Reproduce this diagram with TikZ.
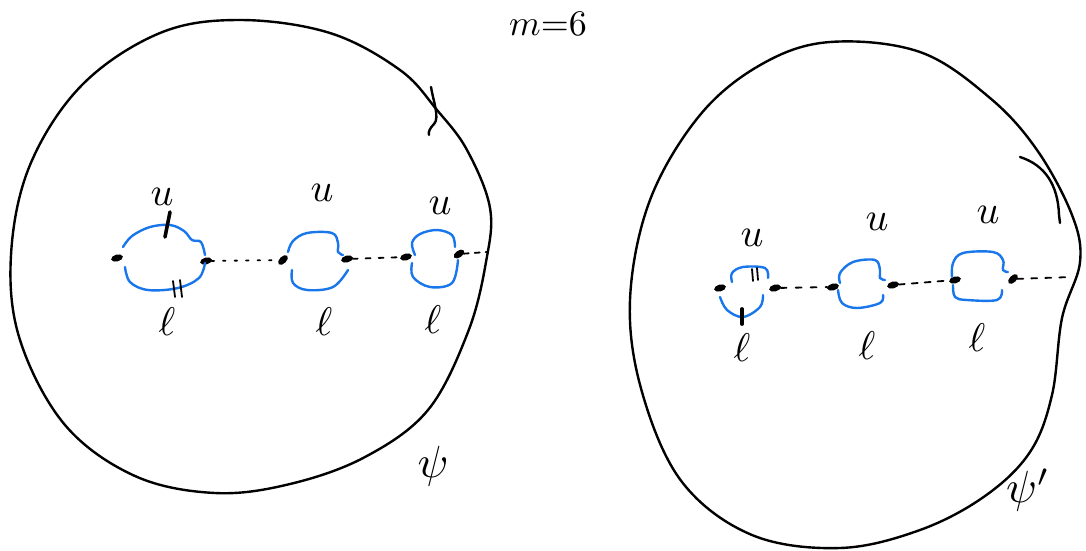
\documentclass[tikz,border=0pt]{standalone}
\usepackage{graphicx}
\usetikzlibrary{shapes.geometric,calc}
\definecolor{penblue}{RGB}{25,118,235}
\newcommand{\bigtxt}[2]{\scalebox{#1}{#2}}
\tikzset{
  ink/.style={line width=2.4pt,line cap=round,line join=round},
  loopb/.style={penblue,line width=2.4pt,line cap=round},
  dotn/.style={ellipse,fill=black,draw=black,line width=0.8pt,minimum width=11pt,minimum height=6pt,inner sep=0pt,rotate=15},
  dotline/.style={line width=1.8pt,dash pattern=on 2.5pt off 9pt,line cap=round},
  lab/.style={inner sep=0pt},
}
\begin{document}
\begin{tikzpicture}[x={(1pt,0)},y={(0,-1pt)}]
\useasboundingbox (0,0) rectangle (1086,550);
% title
\node[lab] (title) at (548,24) {\bigtxt{3.6}{$m{=}6$}};
% left disc
\draw[ink] plot[smooth cycle,tension=0.6] coordinates {(240,20) (330,33) (400,70) (437,110) (467,150) (490,208) (486,262) (468,332) (428,410) (365,457) (290,484) (215,493) (135,476) (65,425) (20,340) (11,255) (30,165) (82,85) (160,33)};
\draw[ink] (431,87) .. controls (433,100) and (440,118) .. (434,124) .. controls (430,128) and (428,132) .. (429,135);
% right disc
\draw[ink] plot[smooth cycle,tension=0.6] coordinates {(830,42) (920,52) (990,98) (1037,150) (1072,215) (1080,262) (1062,318) (1052,395) (1030,452) (985,496) (920,530) (840,548) (752,535) (682,482) (642,392) (630,300) (650,200) (700,115) (762,64)};
\draw[ink] (1020,157) .. controls (1045,165) and (1058,185) .. (1059,215) -- (1060,223);
% left chain nodes
\node[dotn] (L1) at (117,258) {};
\node[dotn] (L2) at (206,261) {};
\node[dotn,rotate=30] (L3) at (283,260) {};
\node[dotn] (L4) at (347,259) {};
\node[dotn] (L5) at (406,257) {};
\node[dotn,rotate=20] (L6) at (459,254) {};
\coordinate (Lend) at (487,252);
\draw[dotline] (L2) -- (L3);
\draw[dotline,dash pattern=on 5pt off 8pt] (L4) -- (L5);
\draw[dotline,dash pattern=on 5pt off 6pt] (L6) -- (Lend);
% left loops
\draw[loopb] plot[smooth,tension=0.6] coordinates {($(L1)+(6,-11)$) (132,236) (150,227) (170,225) (184,231) (192,240) (201,242) ($(L2)+(-1,-6)$)};
\draw[loopb] plot[smooth,tension=0.6] coordinates {($(L1)+(8,9)$) (130,282) (148,290) (178,288) (199,278) ($(L2)+(-1,2)$)};
\draw[loopb] plot[smooth,tension=0.6] coordinates {($(L3)+(5,-8)$) (293,241) (307,233) (332,233) (338,243) (338,252) ($(L4)+(-4,-4)$)};
\draw[loopb] plot[smooth,tension=0.6] coordinates {($(L3)+(9,10)$) (293,283) (307,290) (333,287) ($(L4)+(1,11)$)};
\draw[loopb] plot[smooth,tension=0.6] coordinates {($(L5)+(9,-2)$) (412,243) (420,234) (437,230) (452,235) (455,247)};
\draw[loopb] plot[smooth,tension=0.6] coordinates {($(L5)+(6,6)$) (413,277) (430,287) (452,283) ($(L6)+(-1,6)$)};
% left marks
\draw[ink,line width=3.6pt] (170,212) -- (165,237);
\draw[ink,line width=1.8pt] (173,281) -- (175,297);
\draw[ink,line width=1.8pt] (180,280) -- (182,297);
% left labels
\node[lab] (lu1) at (162,197) {\bigtxt{4}{$u$}};
\node[lab] (lu2) at (322,193) {\bigtxt{4}{$u$}};
\node[lab] (lu3) at (440,206) {\bigtxt{4}{$u$}};
\node[lab] (ll1) at (167,322) {\bigtxt{4}{$\ell$}};
\node[lab] (ll2) at (324,322) {\bigtxt{4}{$\ell$}};
\node[lab] (ll3) at (433,320) {\bigtxt{4}{$\ell$}};
\node[lab] (psi) at (433,466) {\bigtxt{4.5}{$\psi$}};
% right chain nodes
\node[dotn] (R1) at (720,288) {};
\node[dotn] (R2) at (775,288) {};
\node[dotn] (R3) at (833,287) {};
\node[dotn] (R4) at (893,285) {};
\node[dotn] (R5) at (955,280) {};
\node[dotn,rotate=30] (R6) at (1013,279) {};
\coordinate (Rend) at (1072,277);
\draw[dotline,dash pattern=on 6pt off 9pt] (R2) -- (R3);
\draw[dotline,dash pattern=on 6pt off 7pt] (R4) -- (R5);
\draw[dotline,dash pattern=on 6pt off 8pt] (R6) -- (Rend);
% right loops
\draw[loopb] plot[smooth,tension=0.6] coordinates {($(R1)+(12,-6)$) (732,273) (743,267) (765,268) ($(R2)+(-7,-10)$)};
\draw[loopb] plot[smooth,tension=0.6] coordinates {($(R1)+(0,9)$) (727,310) (743,317) (760,307) ($(R2)+(-12,7)$)};
\draw[loopb] plot[smooth,tension=0.6] coordinates {($(R3)+(7,-4)$) (840,273) (853,262) (875,260) (880,270) (880,278) ($(R4)+(-8,-5)$)};
\draw[loopb] plot[smooth,tension=0.6] coordinates {($(R3)+(5,3)$) (842,303) (857,308) (880,303) ($(R4)+(-10,10)$)};
\draw[loopb] plot[smooth,tension=0.6] coordinates {($(R5)+(-3,-3)$) (953,263) (963,253) (993,252) (1003,260) (1003,270) ($(R6)+(-5,-7)$)};
\draw[loopb] plot[smooth,tension=0.6] coordinates {($(R5)+(-2,5)$) (955,297) (967,300) (997,300) ($(R6)+(-11,11)$)};
% right marks
\draw[ink,line width=3.8pt] (742,309) -- (742,324);
\draw[ink,line width=1.8pt] (752,269) -- (753,281);
\draw[ink,line width=1.8pt] (757,268) -- (758,280);
% right labels
\node[lab] (ru1) at (752,238) {\bigtxt{4}{$u$}};
\node[lab] (ru2) at (877,222) {\bigtxt{4}{$u$}};
\node[lab] (ru3) at (988,215) {\bigtxt{4}{$u$}};
\node[lab] (rl1) at (742,348) {\bigtxt{4}{$\ell$}};
\node[lab] (rl2) at (867,346) {\bigtxt{4}{$\ell$}};
\node[lab] (rl3) at (977,338) {\bigtxt{4}{$\ell$}};
\node[lab] (psip) at (1028,490) {\bigtxt{4.5}{$\psi'$}};
\end{tikzpicture}
\end{document}
